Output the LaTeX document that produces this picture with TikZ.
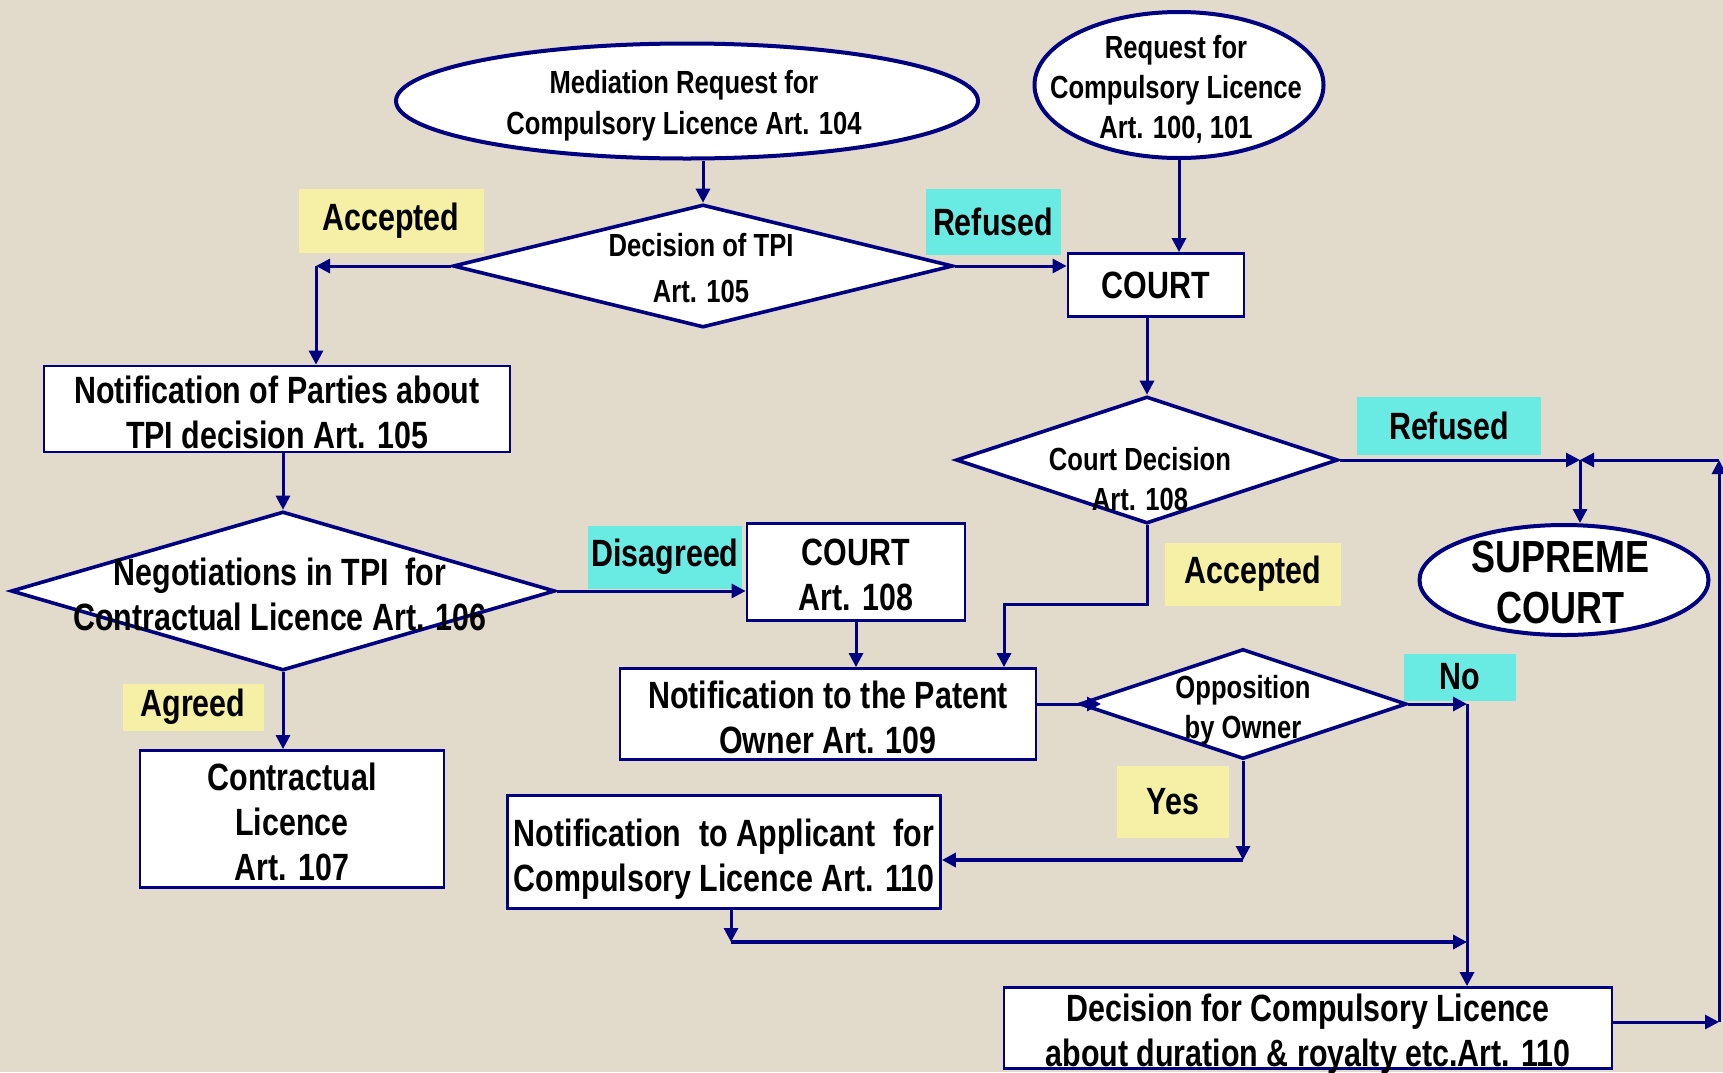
\documentclass[tikz,border=0pt]{standalone}
\usepackage{fontspec}
\newfontfamily\nar[FakeStretch=0.8]{Liberation Sans}
\usetikzlibrary{arrows.meta,shapes.geometric}
\definecolor{navy}{RGB}{0,0,128}
\definecolor{bg}{RGB}{226,218,203}
\definecolor{ylab}{RGB}{245,240,165}
\definecolor{clab}{RGB}{105,235,228}
\newsavebox\applbox
\begin{document}
\sbox\applbox{\nar\bfseries\fontsize{19}{22.5}\selectfont Compulsory Licence Art. 110}%
\begin{tikzpicture}[x=0.5pt,y=-0.5pt,
  big/.style={inner sep=0pt,align=center,font=\nar\bfseries\fontsize{19}{22.5}\selectfont},
  small/.style={inner sep=0pt,align=center,font=\nar\bfseries\fontsize{16}{20}\selectfont},
  huge/.style={inner sep=0pt,align=center,font=\nar\bfseries\fontsize{22.5}{25.5}\selectfont},
  box/.style={big,rectangle,draw=navy,line width=1.4pt,fill=white},
  dia/.style={diamond,draw=navy,line width=1.8pt,fill=white,inner sep=0pt},
  ell/.style={ellipse,draw=navy,line width=2pt,fill=white,inner sep=0pt},
  lab/.style={big,rectangle,inner sep=0pt},
  arr/.style={draw=navy,line width=1.5pt,-{Triangle[length=7pt,width=7pt]}}]
\fill[bg] (0,0) rectangle (1723,1072);
\useasboundingbox (0,0) rectangle (1723,1072);

% labels
\node[lab,fill=ylab,minimum width=92.5pt,minimum height=32pt] (accL) at (391,221) {Accepted};
\node[lab,fill=clab,minimum width=67.5pt,minimum height=33pt] (refT) at (993,222) {Refused};
\node[lab,fill=clab,minimum width=92pt,minimum height=29pt] (refR) at (1449,426) {Refused};
\node[lab,fill=ylab,minimum width=88pt,minimum height=31.5pt] (accM) at (1253,574) {Accepted};
\node[lab,fill=clab,minimum width=77pt,minimum height=31.5pt] (disag) at (665,557) {Disagreed};
\node[lab,fill=ylab,minimum width=70.5pt,minimum height=23.5pt] (agr) at (193,707) {Agreed};
\node[lab,fill=ylab,minimum width=56pt,minimum height=36pt] (yes) at (1173,802) {Yes};
\node[lab,fill=clab,minimum width=56pt,minimum height=23.5pt] (no) at (1460,677) {No};

% shapes
\node[ell,minimum width=291pt,minimum height=57.5pt] (med) at (687,101) {};
\node[small] (medt) at (684,106) {Mediation Request for\\[0.5pt]Compulsory Licence Art. 104};
\node[ell,minimum width=144.5pt,minimum height=73pt] (req) at (1179,85) {};
\node[small] (reqt) at (1176,89) {Request for\\Compulsory Licence\\Art. 100, 101};
\node[dia,minimum width=250pt,minimum height=61.5pt] (dtpi) at (703,266) {};
\node[small] (dtpit) at (701,268) {Decision of TPI\\[3pt]Art. 105};
\node[box,minimum width=88pt,minimum height=31.5pt] (court1) at (1156,285) {COURT};
\node[dia,minimum width=191pt,minimum height=63.5pt] (cdec) at (1147,460) {};
\node[small] (cdect) at (1140,479) {Court Decision\\Art. 108};
\node[ell,minimum width=144.5pt,minimum height=55pt] (sup) at (1564,580) {};
\node[huge] (supt) at (1560,582) {SUPREME\\COURT};
\node[box,minimum width=233pt,minimum height=43pt] (parties) at (277,409) {};
\node[big] (partiest) at (277,412) {Notification of Parties about\\TPI decision Art. 105};
\node[dia,minimum width=272pt,minimum height=79.5pt] (nego) at (283,591) {};
\node[big] (negot) at (280,594) {Negotiations in TPI\ \ for\\Contractual Licence Art. 106};
\node[box,minimum width=109pt,minimum height=48.5pt] (court2) at (856,572) {};
\node[big] (court2t) at (856,575) {COURT\\Art. 108};
\node[box,minimum width=152pt,minimum height=68.5pt] (contr) at (292,819) {};
\node[big] (contrt) at (292,822) {Contractual\\Licence\\Art. 107};
\node[box,minimum width=208pt,minimum height=45.5pt] (patent) at (828,714) {};
\node[big] (patentt) at (828,717) {Notification to the Patent\\Owner Art. 109};
\node[dia,minimum width=163.5pt,minimum height=55pt] (opp) at (1243,704) {};
\node[small] (oppt) at (1243,710) {Opposition\\by Owner};
\node[box,minimum width=216.5pt,minimum height=56.5pt] (appl) at (724,852) {};
\node[big] (applt) at (724,859) {\makebox[\wd\applbox][s]{Notification\hfill to Applicant\hfill for}\\Compulsory Licence Art. 110};
\node[box,minimum width=304pt,minimum height=40.5pt] (final) at (1308,1028) {};
\node[big] (finalt) at (1308,1034) {Decision for Compulsory Licence\\about duration \& royalty etc.Art. 110};

% helper coordinates
\coordinate (c1) at (316,266);
\coordinate (j) at (1580,460);
\coordinate (r1) at (1719,1022);
\coordinate (r2) at (1719,460);
\coordinate (ca) at (1004,604);
\coordinate (pp) at (1101,704);
\coordinate (n1) at (1467,704);
\coordinate (y1) at (1243,860);
\coordinate (b1) at (731,942);
\coordinate (b2) at (1467,942);

% connectors
\draw[arr] (dtpi.north |- med.south) -- (dtpi.north);
\draw[arr] (dtpi.west) -- (c1);
\draw[arr] (c1) -- (c1 |- parties.north);
\draw[arr] (dtpi.east) -- (dtpi.east -| court1.west);
\draw[arr] (req.south) -- (req.south |- court1.north);
\draw[arr] (cdec.north |- court1.south) -- (cdec.north);
\draw[arr] (cdec.east) -- (j);
\draw[arr] (j) -- (j |- sup.north);
\draw[arr] (final.east |- r1) -- (r1);
\draw[arr] (r1) -- (r2);
\draw[arr] (r2) -- (j);
\draw[arr] (cdec.south) |- (ca) -- (ca |- patent.north);
\draw[arr] (nego.north |- parties.south) -- (nego.north);
\draw[arr] (nego.east) -- (nego.east -| court2.west);
\draw[arr] (nego.south) -- (nego.south |- contr.north);
\draw[arr] (court2.south) -- (court2.south |- patent.north);
\draw[arr] (patent.east |- pp) -- (pp);
\draw[arr] (opp.east) -- (n1);
\draw[arr] (n1) -- (n1 |- final.north);
\draw[arr] (opp.south) -- (y1);
\draw[arr,line width=2pt] (y1) -- (y1 -| appl.east);
\draw[arr] (appl.south -| b1) -- (b1);
\draw[arr,line width=2.2pt] (b1) -- (b2);
\end{tikzpicture}
\end{document}
